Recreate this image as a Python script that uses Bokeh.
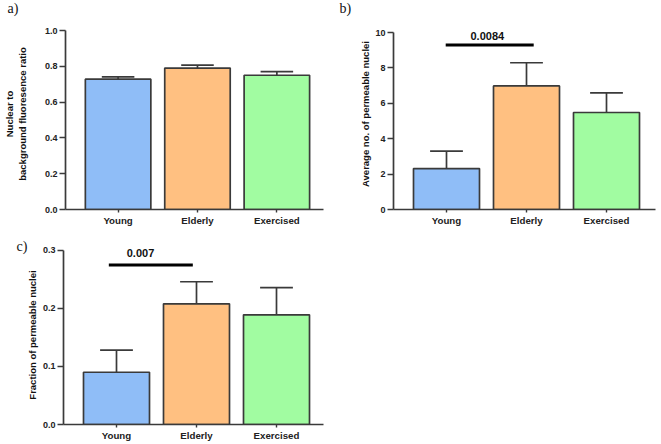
from bokeh.plotting import figure
from bokeh.layouts import column, row
from bokeh.models import Range1d, FixedTicker, Label, ColumnDataSource
from bokeh.embed import file_html
from bokeh.resources import INLINE

# ---- data ----
categories = ["Young", "Elderly", "Exercised"]
colors = ["#8fbdf7", "#ffc081", "#a1fca1"]

ratio_mean = [0.728, 0.790, 0.750]
ratio_upper = [0.741, 0.807, 0.770]

avg_mean = [2.31, 6.98, 5.48]
avg_upper = [3.30, 8.29, 6.59]

frac_mean = [0.090, 0.208, 0.189]
frac_upper = [0.128, 0.246, 0.236]

p_b = "0.0084"
p_c = "0.007"

AX = "#3a3a3a"
FONT = "Liberation Sans"
SERIF = "Liberation Serif"
BAR_W = 0.825
CAP_HALF = 0.205
PX_PER_UNIT = 80.0


def safe_set(obj, attr, val, fallback):
    try:
        setattr(obj, attr, val)
    except Exception:
        setattr(obj, attr, fallback)


def make_panel(width, height, borders, axis_px, xstart, yend, yticks,
               ylabel, means, uppers, label_standoff, letter, letter_offset,
               letter_standoff, letter_valign):
    bl, br, bt, bb = borders
    fw = width - bl - br
    fh = height - bt - bb
    xend = xstart + fw / PX_PER_UNIT
    ytop = yend * fh / axis_px
    p = figure(width=width, height=height, output_backend="svg",
               toolbar_location=None, tools="",
               x_range=Range1d(xstart, xend), y_range=Range1d(0, ytop),
               min_border_left=bl, min_border_right=br,
               min_border_top=bt, min_border_bottom=bb)
    p.outline_line_color = None
    p.grid.visible = False
    p.background_fill_color = "white"
    p.border_fill_color = "white"

    p.title.text = letter
    p.title.text_font = SERIF
    p.title.text_font_style = "normal"
    p.title.text_font_size = "14px"
    p.title.text_color = "#111111"
    p.title.align = "left"
    p.title.vertical_align = letter_valign
    p.title.offset = letter_offset
    safe_set(p.title, "standoff", letter_standoff, 0)

    xs = list(range(len(categories)))
    src = ColumnDataSource(dict(x=xs, top=means, up=uppers, color=colors,
                                x0=[x - CAP_HALF for x in xs],
                                x1=[x + CAP_HALF for x in xs]))
    p.segment(x0="x", y0="top", x1="x", y1="up", source=src,
              line_color=AX, line_width=1.7)
    p.segment(x0="x0", y0="up", x1="x1", y1="up", source=src,
              line_color=AX, line_width=1.7)
    p.vbar(x="x", top="top", width=BAR_W, bottom=0, source=src,
           fill_color="color", line_color=AX, line_width=1.7)

    for ax in (p.xaxis[0], p.yaxis[0]):
        ax.axis_line_color = AX
        ax.axis_line_width = 1.7
        ax.major_tick_line_color = AX
        ax.major_tick_line_width = 1.4
        ax.minor_tick_line_color = None
        ax.major_tick_in = 0
        ax.major_label_text_font = FONT
        ax.major_label_text_font_style = "bold"
        ax.major_label_text_color = "#222222"

    p.xaxis.ticker = FixedTicker(ticks=xs)
    p.xaxis.major_label_overrides = {i: c for i, c in enumerate(categories)}
    p.xaxis.major_tick_out = 3
    p.xaxis.major_label_standoff = 2
    p.xaxis.major_label_text_font_size = "9.7px"

    p.yaxis.ticker = FixedTicker(ticks=yticks)
    p.yaxis.bounds = (0, yend)
    p.yaxis.major_tick_out = 6
    p.yaxis.major_label_standoff = 2
    p.yaxis.major_label_text_font_size = "9px"
    p.yaxis.axis_label = ylabel
    p.yaxis.axis_label_text_font = FONT
    p.yaxis.axis_label_text_font_style = "bold"
    p.yaxis.axis_label_text_font_size = "9.5px"
    p.yaxis.axis_label_text_color = "#111111"
    safe_set(p.yaxis[0], "axis_label_standoff", label_standoff, 0)
    return p


def add_sig(p, x0, x1, ybar, text, xtext, ytext):
    p.segment(x0=[x0], y0=[ybar], x1=[x1], y1=[ybar],
              line_color="black", line_width=3)
    p.add_layout(Label(x=xtext, y=ytext, text=text, text_font=FONT,
                       text_font_style="bold", text_font_size="11px",
                       text_color="#111111", text_align="center",
                       text_baseline="middle"))


# panel a  (frame 18..209, axis 30..209)
pa = make_panel(330, 229, (63, 7, 18, 20), 179, -0.6625, 1.0,
                [0, 0.2, 0.4, 0.6, 0.8, 1.0],
                "Nuclear to\nbackground fluoresence ratio",
                ratio_mean, ratio_upper, 14, "a)", -58, 1, "top")
pa.yaxis.major_label_overrides = {0: "0.0", 1: "1.0"}

# panel b  (frame 18..209, axis 32..209)
pb = make_panel(330, 229, (63, 5, 18, 20), 177, -0.6625, 10,
                [0, 2, 4, 6, 8, 10],
                "Average no. of permeable nuclei",
                avg_mean, avg_upper, 1, "b)", -54, 1, "top")
add_sig(pb, -0.01, 1.09, 9.29, p_b, 0.51, 9.81)

# panel c  (frame 245..428, axis 250..428)
pc = make_panel(330, 214, (63, 7, 16, 15), 178, -0.6625, 0.3,
                [0, 0.1, 0.2, 0.3],
                "Fraction of permeable nuclei",
                frac_mean, frac_upper, 2, "c)", -47, -16, "bottom")
pc.yaxis.major_label_overrides = {0: "0.0"}
add_sig(pc, -0.096, 0.954, 0.275, p_c, 0.30, 0.296)

layout = column(row(pa, pb), pc)
open("out.html", "w").write(file_html(layout, INLINE))
